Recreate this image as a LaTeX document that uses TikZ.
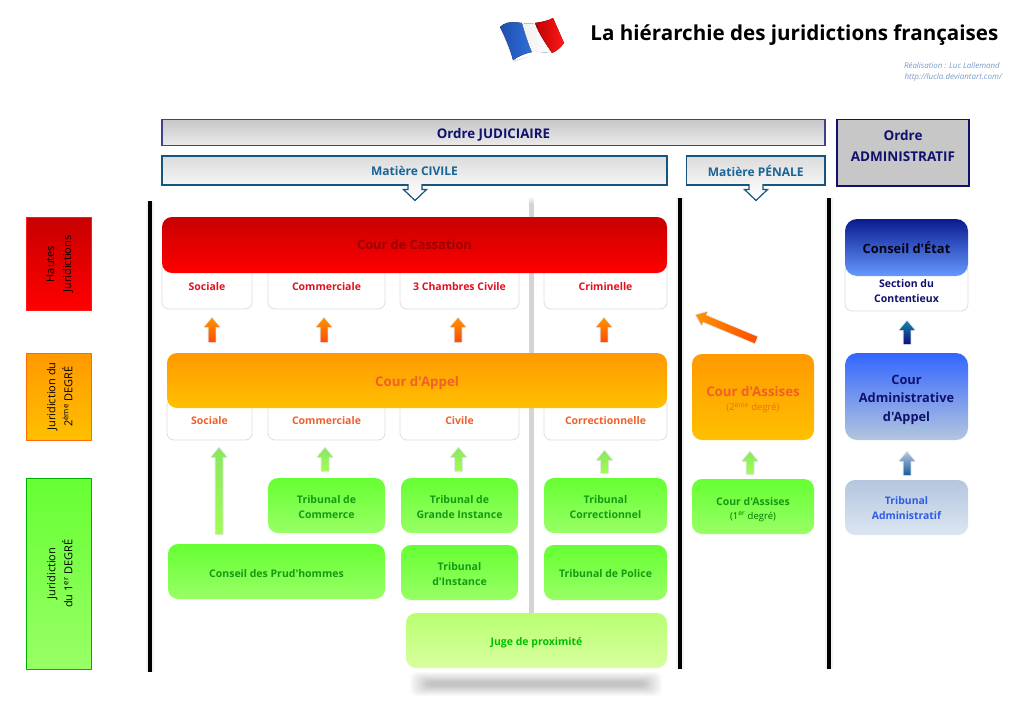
\documentclass[tikz,border=0pt]{standalone}
\usepackage{fontspec}
\newfontfamily\uif{Open Sans}
\usetikzlibrary{calc}
\definecolor{navy}{HTML}{10106E}
\definecolor{steel}{HTML}{1A6496}
\definecolor{txtgreen}{HTML}{149A14}
\definecolor{txtorange}{HTML}{F0602A}
\definecolor{txtred}{HTML}{E01020}
\definecolor{lime1}{HTML}{B8FF70}
\definecolor{lime2}{HTML}{D8FFA0}
\definecolor{blue2top}{HTML}{3366FF}
\definecolor{blue2bot}{HTML}{B4C6DE}
\definecolor{blue3bot}{HTML}{DCE6F2}
\definecolor{greentop}{HTML}{66FF33}
\definecolor{greenbot}{HTML}{99FF66}
\definecolor{redtop}{HTML}{C80000}
\definecolor{ortop}{HTML}{FF9900}
\definecolor{orbot}{HTML}{FFC000}
\definecolor{bluedark}{HTML}{0A1A90}
\definecolor{bluelight}{HTML}{6699FF}
\definecolor{creditc}{HTML}{7A9AC8}
\definecolor{arrgrtop}{HTML}{88E860}
\definecolor{arrgrbot}{HTML}{A0FF50}
\definecolor{flagblueA}{HTML}{1F4FB0}
\definecolor{flagblueB}{HTML}{2F6FD8}
\newcommand{\bx}[7]{\node[#6,inner sep=0pt,outer sep=0pt,minimum width=#4pt-#2pt,minimum height=#5pt-#3pt] (#1) at ({(#2+#4)/2},{(#3+#5)/2}) {#7};}
% text block moved down by #1 pt inside its box
\newcommand{\dn}[2]{\raisebox{-#1pt}[\height][\depth]{\begin{tabular}{@{}c@{}}#2\end{tabular}}}
% block arrow from (#1) to (#2), shaft half width #3, head half width #4, head length #5, style #6
\newcommand{\blockarr}[6]{%
 \coordinate (hb) at ($(#2)!#5pt!(#1)$);
 \def\shp{($(#1)!#3pt!90:(#2)$) -- ($(hb)!#3pt!-90:(#1)$) -- ($(hb)!#4pt!-90:(#1)$) -- (#2)
   -- ($(hb)!#4pt!90:(#1)$) -- ($(hb)!#3pt!90:(#1)$) -- ($(#1)!#3pt!-90:(#2)$) -- cycle}
 \path[draw=black!40,fill=black!40,line width=2pt,line join=round,opacity=.22,yshift=-1pt] \shp;
 \path[#6] \shp;}
% open-topped arrow below a heading box
\newcommand{\tagarr}[6]{%
 \coordinate (hb) at ($(#2)!#5pt!(#1)$);
 \path[#6] ($(#1)!#3pt!90:(#2)$) -- ($(hb)!#3pt!-90:(#1)$) -- ($(hb)!#4pt!-90:(#1)$) -- (#2)
   -- ($(hb)!#4pt!90:(#1)$) -- ($(hb)!#3pt!90:(#1)$) -- ($(#1)!#3pt!-90:(#2)$);}
\tikzset{
 x=1pt,y=-1pt,
 txt/.style={font=\uif\bfseries\fontsize{10.5}{15}\selectfont},
 side/.style={font=\uif\fontsize{11}{17}\selectfont,text=black},
 sidered/.style={top color=redtop,bottom color=red,draw=red!90},
 sideor/.style={top color=ortop,bottom color=orbot,draw=orange!85!red},
 sidegr/.style={top color=greentop,bottom color=greenbot,draw=green!70!black},
 head1/.style={draw=navy!80,line width=1.2pt,top color=black!22,bottom color=black!8,font=\uif\bfseries\fontsize{13.3}{17}\selectfont,text=navy},
 head2/.style={draw=steel!85!black,line width=1.2pt,top color=black!14,bottom color=black!4,font=\uif\bfseries\fontsize{12}{16}\selectfont,text=steel},
 head3/.style={draw=navy,line width=1.2pt,fill=black!22,font=\uif\bfseries\fontsize{13.5}{21}\selectfont,text=navy},
 sub/.style={fill=white,draw=black!13,line width=.8pt,rounded corners=7pt,txt},
 red box/.style={rounded corners=10pt,top color=redtop,bottom color=red,font=\uif\bfseries\fontsize{12.8}{17}\selectfont,text=red!60!black},
 or box/.style={rounded corners=10pt,top color=ortop,bottom color=orbot,font=\uif\bfseries\fontsize{13.3}{17}\selectfont,text=txtorange},
 gr box/.style={rounded corners=10pt,top color=greentop,bottom color=greenbot,txt,text=txtgreen},
 ju box/.style={rounded corners=10pt,top color=lime1,bottom color=lime2,txt,text=green!75!black},
 blue1/.style={rounded corners=12pt,top color=bluedark,bottom color=bluelight,font=\uif\bfseries\fontsize{12.9}{19}\selectfont,text=navy},
 blue2/.style={rounded corners=12pt,top color=blue2top,bottom color=blue2bot,font=\uif\bfseries\fontsize{12.8}{18.5}\selectfont,text=navy},
 blue3/.style={rounded corners=10pt,top color=blue2bot,bottom color=blue3bot,font=\uif\bfseries\fontsize{10.4}{15}\selectfont,text=blue2top!90!black},
 bar/.style={line width=3.4pt,black},
 barshadow/.style={line width=8pt,black!5},
 arror/.style={top color=orange!85!yellow,bottom color=orange!60!red},
 arrgr/.style={top color=arrgrtop,bottom color=arrgrbot},
 arrbl/.style={top color=blue2bot,bottom color=steel!90!blue},
 arrbd/.style={top color=steel!80!cyan,bottom color=navy!90!blue},
 tag/.style={draw=steel!85!black,line width=1.2pt,top color=black!4,bottom color=white},
}
\begin{document}
\begin{tikzpicture}
\useasboundingbox[fill=white] (0,0) rectangle (1024,704);

% flag
\fill[black!12] (502,32) -- (514,62) -- (530,56) -- (516,60) -- cycle;
\fill[left color=flagblueA,right color=flagblueB] (500,27) .. controls (504,23) and (509,21) .. (522,23) .. controls (525,33) and (528,43) .. (532,52) .. controls (526,53) and (519,56) .. (513,60) .. controls (510,48) and (505,37) .. (500,27) -- cycle;
\fill[left color=black!6,right color=white] (522,23) .. controls (527,24) and (531,24) .. (535,23) .. controls (539,34) and (546,44) .. (552,53) .. controls (545,53) and (538,51) .. (532,52) .. controls (528,43) and (525,33) .. (522,23) -- cycle;
\fill[left color=red!75!black,right color=red!90!white] (535,23) .. controls (541,22) and (548,21) .. (553,18) .. controls (557,27) and (561,36) .. (564,43) .. controls (561,47) and (557,51) .. (552,53) .. controls (546,44) and (539,34) .. (535,23) -- cycle;

% title
\node[font=\uif\bfseries\fontsize{20.6}{25}\selectfont,anchor=east,inner sep=0pt] (title) at (998.5,35) {La hiérarchie des juridictions françaises};
\node[font=\uif\itshape\fontsize{7.9}{11}\selectfont,text=creditc,anchor=east,inner sep=0pt] (credit1) at (1000,66) {Réalisation : Luc Lallemand};
\node[font=\uif\itshape\fontsize{8}{11}\selectfont,text=creditc,anchor=east,inner sep=0pt] (credit2) at (1002,77) {http://lucla.deviantart.com/};

% bottom shadow
\foreach \i in {0,...,11}{
 \fill[black,opacity=.02,rounded corners=6pt] ({410+\i*1.6},{672+\i*0.9}) rectangle ({662-\i*1.6},{696-\i*0.9});
}

% grey centre line
\fill[top color=white,bottom color=black!17] (528.8,196) rectangle (533.8,204);
\fill[black!17] (528.8,204) rectangle (533.8,614);

% bars
\coordinate (b1a) at (150,201); \coordinate (b1b) at (150,672);
\coordinate (b2a) at (680,198); \coordinate (b2b) at (680,669);
\coordinate (b3a) at (829,198); \coordinate (b3b) at (829,669);
\draw[barshadow] (b1a) -- (b1b);
\draw[barshadow] (b2a) -- (b2b);
\draw[barshadow] (b3a) -- (b3b);
\draw[bar] (b1a) -- (b1b);
\draw[bar] (b2a) -- (b2b);
\draw[bar] (b3a) -- (b3b);

% headers
\bx{judic}{162}{119.5}{825}{145.5}{head1}{\dn{3}{Ordre JUDICIAIRE}}
\bx{admin}{837}{119.5}{969}{186}{head3}{\dn{-5.5}{Ordre\\ADMINISTRATIF}}
\bx{civile}{162}{156}{667}{185}{head2}{Matière CIVILE}
\bx{penale}{686.5}{156}{825}{185}{head2}{Matière PÉNALE}
\coordinate (tc) at (415,184); \coordinate (tp) at (756,184);
\coordinate (tce) at (415,200.5); \coordinate (tpe) at (756,200.5);
\tagarr{tc}{tce}{7}{11.5}{11}{tag}
\tagarr{tp}{tpe}{7}{11.5}{11}{tag}

% side labels
\bx{hautes}{26}{217}{91.5}{310}{sidered}{}
\bx{deux}{26}{353}{91.5}{440}{sideor}{}
\bx{prem}{26}{478}{91.5}{669}{sidegr}{}
\node[side,rotate=90,align=center,xshift=-.5pt,yshift=-1pt] at (hautes) {Hautes\\Juridictions};
\node[side,rotate=90,align=center,yshift=-1pt] at (deux) {Juridiction du\\2\textsuperscript{ème} DEGRÉ};
\node[side,rotate=90,align=center,yshift=-1pt] at (prem) {Juridiction\\du 1\textsuperscript{er} DEGRÉ};

% cassation
\bx{s1}{162}{262}{252}{309}{sub,text=txtred}{\dn{2}{Sociale}}
\bx{s2}{268}{262}{385}{309}{sub,text=txtred}{\dn{2}{Commerciale}}
\bx{s3}{400}{262}{519}{309}{sub,text=txtred}{\dn{2}{3 Chambres Civile}}
\bx{s4}{544}{262}{667}{309}{sub,text=txtred}{\dn{2}{Criminelle}}
\bx{cass}{162}{217}{667}{273}{red box}{\dn{1}{Cour de Cassation}}

% appel
\bx{a1}{167}{399}{252}{440}{sub,text=txtorange}{\dn{2}{Sociale}}
\bx{a2}{268}{399}{385}{440}{sub,text=txtorange}{\dn{2}{Commerciale}}
\bx{a3}{400}{399}{519}{440}{sub,text=txtorange}{\dn{2}{Civile}}
\bx{a4}{544}{399}{667}{440}{sub,text=txtorange}{\dn{2}{Correctionnelle}}
\bx{appel}{167}{353}{667}{408}{or box}{\dn{3}{Cour d'Appel}}

% first degree
\bx{tcom}{268}{478}{385}{533}{gr box}{\dn{2}{Tribunal de\\Commerce}}
\bx{tgi}{401}{478}{518}{533}{gr box}{\dn{2}{Tribunal de\\Grande Instance}}
\bx{tcor}{544}{478}{667}{533}{gr box}{\dn{2}{Tribunal\\Correctionnel}}
\bx{prud}{168}{544}{385}{599}{gr box}{\dn{3}{Conseil des Prud'hommes}}
\bx{tinst}{401}{545}{518}{600}{gr box}{\dn{2}{Tribunal\\d'Instance}}
\bx{tpol}{544}{545}{667}{600}{gr box}{\dn{1.5}{Tribunal de Police}}
\bx{juge}{406}{613}{667}{668}{ju box}{\dn{2}{Juge de proximité}}

% penal
\bx{as2}{692}{354}{814}{440}{or box}{\dn{3.5}{Cour d'Assises\\[-3pt]{\uif\mdseries\fontsize{9.5}{11}\selectfont\color{txtorange!70!orange}(2\textsuperscript{ème} degré)}}}
\bx{as1}{692}{479}{814}{534}{gr box}{\dn{2.5}{Cour d'Assises\\[-1pt]{\uif\mdseries\fontsize{9.5}{11}\selectfont\color{green!45!black}(1\textsuperscript{er} degré)}}}

% administrative
\bx{sec}{845}{265}{968}{311}{sub,text=navy}{\dn{4}{Section du\\Contentieux}}
\bx{etat}{845}{219}{968}{276}{blue1,text=black!85!navy}{Conseil d'État}
\bx{caa}{845}{353}{968}{440}{blue2}{\dn{2.5}{Cour\\Administrative\\d'Appel}}
\bx{ta}{845}{480}{968}{535}{blue3}{\dn{1}{Tribunal\\Administratif}}

% arrows
\foreach \n/\x in {s1/212,s2/324,s3/458,s4/604}{
 \coordinate (\n u) at (\x,318); \coordinate (\n d) at (\x,342);
 \blockarr{\n d}{\n u}{3.5}{7.5}{9}{arror}
}
\coordinate (dia) at (756,340); \coordinate (diu) at (696,315);
\blockarr{dia}{diu}{3.5}{7}{9}{arror,left color=orange!85!yellow,right color=orange!60!red}
\coordinate (g1d) at (219,534); \coordinate (g1u) at (219,448);
\blockarr{g1d}{g1u}{3.5}{7.5}{9}{arrgr}
\coordinate (g2d) at (325,471); \coordinate (g2u) at (325,448);
\blockarr{g2d}{g2u}{3.5}{7.5}{9}{arrgr}
\coordinate (g3d) at (458.5,471); \coordinate (g3u) at (458.5,448);
\blockarr{g3d}{g3u}{3.5}{7.5}{9}{arrgr}
\coordinate (g4d) at (604.5,473); \coordinate (g4u) at (604.5,451);
\blockarr{g4d}{g4u}{3.5}{7.5}{9}{arrgr}
\coordinate (g5d) at (750,474); \coordinate (g5u) at (750,452);
\blockarr{g5d}{g5u}{3.5}{7.5}{9}{arrgr}
\coordinate (b1d) at (907,344); \coordinate (b1u) at (907,321);
\blockarr{b1d}{b1u}{3.5}{7.5}{9}{arrbd}
\coordinate (b2d) at (907,475); \coordinate (b2u) at (907,452);
\blockarr{b2d}{b2u}{3.5}{7.5}{9}{arrbl}
\end{tikzpicture}
\end{document}
